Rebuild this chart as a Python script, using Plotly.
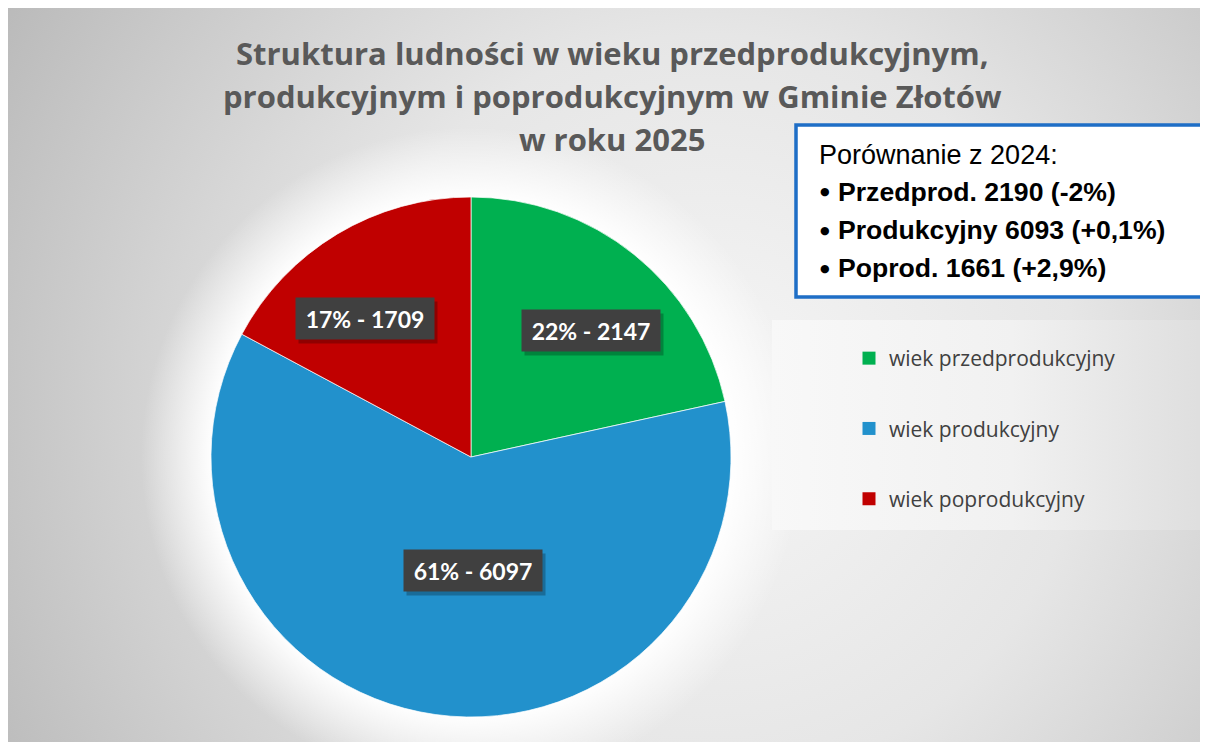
import base64
import math
import plotly.graph_objects as go

# ---------------- data ----------------
categories = ["wiek przedprodukcyjny", "wiek produkcyjny", "wiek poprodukcyjny"]
values_2025 = [2147, 6097, 1709]
short_names = ["Przedprod.", "Produkcyjny", "Poprod."]
values_2024 = [2190, 6093, 1661]
changes_vs_2024 = ["-2%", "+0,1%", "+2,9%"]
title_lines = [
    "Struktura ludności w wieku przedprodukcyjnym,",
    "produkcyjnym i poprodukcyjnym w Gminie Złotów",
    "w roku 2025",
]
box_heading = "Porównanie z 2024:"

# ---------------- style ----------------
colors = ["#00b050", "#2291cc", "#c00000"]
OFF = 8                      # page body margin of the browser
W, H = 1200, 734             # figure size
CX, CY, R = 471, 457, 260    # pie centre / radius in page pixels
label_radius = [0.67, 0.435, 0.67]
label_angle_adj = [4.6, -8.9, -6.6]


def px(x):
    return (x - OFF) / W


def py(y):
    return 1 - (y - OFF) / H


# background (gradient) as inline SVG image
svg = f'''<svg xmlns="http://www.w3.org/2000/svg" width="{W}" height="{H}" viewBox="0 0 {W} {H}">
<defs>
<radialGradient id="bg" gradientUnits="userSpaceOnUse" cx="700" cy="400" r="830">
<stop offset="0" stop-color="#f6f6f6"/>
<stop offset="0.45" stop-color="#e6e6e6"/>
<stop offset="1" stop-color="#b8b8b8"/>
</radialGradient>
<radialGradient id="halo" gradientUnits="userSpaceOnUse" cx="{CX-OFF}" cy="{CY-OFF}" r="330">
<stop offset="0.78" stop-color="#ffffff" stop-opacity="1"/>
<stop offset="1" stop-color="#ffffff" stop-opacity="0"/>
</radialGradient>
<linearGradient id="leg" x1="0" x2="1" y1="0" y2="0">
<stop offset="0" stop-color="#f8f8f8"/>
<stop offset="0.55" stop-color="#f1f1f1"/>
<stop offset="1" stop-color="#dedede"/>
</linearGradient>
</defs>
<rect x="0" y="0" width="{W}" height="{H}" fill="url(#bg)"/>
<circle cx="{CX-OFF}" cy="{CY-OFF}" r="330" fill="url(#halo)"/>
<rect x="{772-OFF}" y="{320-OFF}" width="{W+OFF-772}" height="210" fill="url(#leg)"/>
</svg>'''
svg_uri = "data:image/svg+xml;base64," + base64.b64encode(svg.encode("utf-8")).decode("ascii")

fig = go.Figure()

fig.add_trace(go.Pie(
    labels=categories,
    values=values_2025,
    marker=dict(colors=colors, line=dict(color="rgba(255,255,255,0.7)", width=1)),
    sort=False,
    direction="clockwise",
    rotation=0,
    textinfo="none",
    hoverinfo="label+value+percent",
    showlegend=False,
    domain=dict(x=[px(CX - R), px(CX + R)], y=[py(CY + R), py(CY - R)]),
))

# legend entries (one per category, so they can be spaced like the original)
for i, (name, col) in enumerate(zip(categories, colors)):
    fig.add_trace(go.Scatter(
        x=[None], y=[None], mode="markers", name=name,
        marker=dict(symbol="square", size=13, color=col),
        legendgroup=f"g{i}", showlegend=True, hoverinfo="skip",
    ))

annotations = []

# data labels computed from the slice angles
total = sum(values_2025)
cum = 0
for i, v in enumerate(values_2025):
    mid = (cum + v / 2) / total
    cum += v
    ang = math.radians(mid * 360 + label_angle_adj[i])
    r = R * label_radius[i]
    lx = CX + r * math.sin(ang)
    ly = CY - r * math.cos(ang)
    pct = round(100 * v / total)
    text = f"{pct}% - {v}"
    common = dict(x=px(lx), y=py(ly), xref="paper", yref="paper", showarrow=False,
                  xanchor="center", yanchor="middle", width=126, height=29, borderpad=6)
    annotations.append(dict(common, text=text, bgcolor="rgba(0,0,0,0.25)",
                            xshift=3, yshift=-4,
                            font=dict(family="Lato", size=23, weight="bold", color="rgba(0,0,0,0)")))
    annotations.append(dict(common, text=text, bgcolor="#404040",
                            font=dict(family="Lato", size=23, weight="bold", color="white")))

# title (three lines)
title_y = [53, 96, 139]
for t, yy in zip(title_lines, title_y):
    annotations.append(dict(text=t, x=px(612), y=py(yy), xref="paper", yref="paper",
                            showarrow=False, xanchor="center", yanchor="middle",
                            font=dict(family="Open Sans", size=31, weight="bold", color="#595959")))

# comparison box
annotations.append(dict(text=box_heading, x=px(817), y=py(155), xref="paper", yref="paper",
                        showarrow=False, xanchor="left", yanchor="middle",
                        font=dict(family="Liberation Sans", size=27, color="black")))
line_y = [192, 230, 268]
for n, v, c, yy in zip(short_names, values_2024, changes_vs_2024, line_y):
    annotations.append(dict(text="●", x=px(818), y=py(yy), xref="paper", yref="paper",
                            showarrow=False, xanchor="left", yanchor="middle",
                            font=dict(family="DejaVu Sans", size=11, color="black")))
    annotations.append(dict(text=f"{n} {v} ({c})", x=px(836), y=py(yy), xref="paper", yref="paper",
                            showarrow=False, xanchor="left", yanchor="middle",
                            font=dict(family="Liberation Sans", size=26.6, color="black", weight="bold")))

shapes = [dict(type="rect", xref="paper", yref="paper",
               x0=px(796), x1=px(1202), y0=py(297), y1=py(125),
               fillcolor="white", line=dict(color="#1e6ec6", width=3.5), layer="above")]

fig.update_layout(
    width=W, height=H,
    margin=dict(l=0, r=0, t=0, b=0),
    paper_bgcolor="white",
    plot_bgcolor="rgba(0,0,0,0)",
    images=[dict(source=svg_uri, xref="paper", yref="paper",
                 x=0, y=1, sizex=1, sizey=1,
                 xanchor="left", yanchor="top", sizing="stretch", layer="below")],
    xaxis=dict(visible=False, domain=[0, 1]),
    yaxis=dict(visible=False, domain=[0, 1]),
    legend=dict(x=px(849), y=py(338), xanchor="left", yanchor="top",
                bgcolor="rgba(0,0,0,0)", tracegroupgap=40,
                font=dict(family="Open Sans", size=21, color="#404040")),
    annotations=annotations,
    shapes=shapes,
    showlegend=True,
)

fig.write_html(
    "out.html",
    post_script="document.documentElement.style.overflow='hidden';document.body.style.overflow='hidden';",
)
